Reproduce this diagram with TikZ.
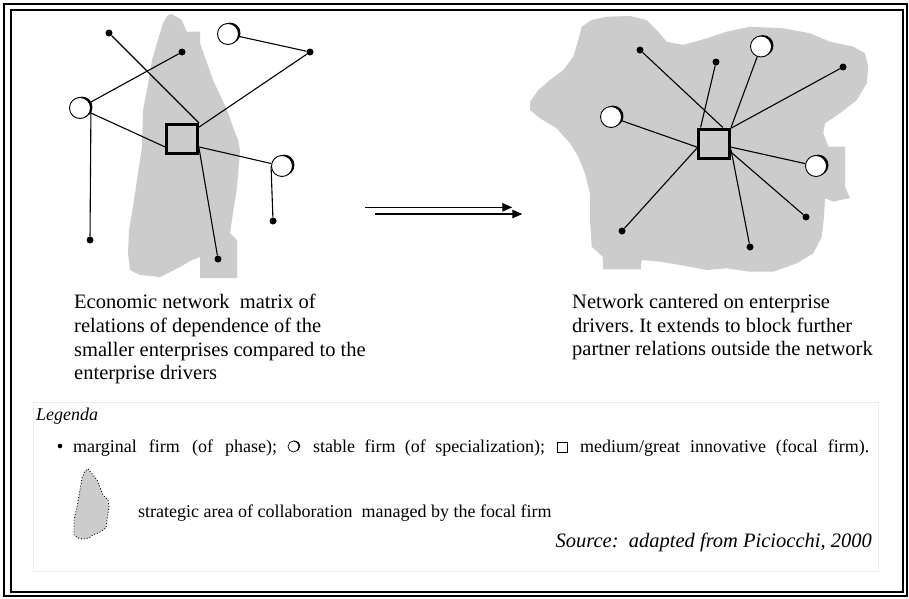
\documentclass[tikz,border=0pt]{standalone}
\usepackage{fontspec}
\setmainfont{Liberation Serif}
\usetikzlibrary{arrows.meta,shadows}
\definecolor{blobgray}{HTML}{CCCCCC}
\definecolor{boxgray}{HTML}{EBEBEB}
\frenchspacing

\begin{document}
\begin{tikzpicture}[x=1pt,y=-1pt,
  blob/.style={fill=blobgray},
  marginal/.style={circle,fill=black,inner sep=0pt,minimum size=7pt},
  stable/.style={circle,draw=black,line width=0.9pt,fill=white,inner sep=0pt,minimum size=21pt,
    drop shadow={shadow xshift=2pt,shadow yshift=0.9pt,opacity=1,fill=black}},
  focal/.style={draw=black,line width=3pt,inner sep=0pt,minimum width=31pt,minimum height=29pt},
  link/.style={line width=1.1pt},
  caption/.style={font=\fontsize{20.5}{23.7}\selectfont,align=left,anchor=north west,inner sep=0pt},
  legtext/.style={font=\fontsize{18}{21}\selectfont,anchor=base west,inner sep=0pt},
  move/.style={line width=1.2pt,-{Triangle[length=10pt,width=8.5pt]}}
]
\useasboundingbox (0,0) rectangle (909,598);
\fill[white] (0,0) rectangle (909,598);

% double frame
\draw[line width=2pt] (4,3.8) rectangle (907.3,596);
\draw[line width=2pt] (10.8,10.2) rectangle (903,591.8);

% ---------- network before: strategic area ----------
\fill[blob] (171.7,14) -- (181.7,20) -- (186.7,31.7) -- (200,31.7) -- (200,43) -- (213,80)
  -- (227,110) -- (233,127) -- (238,140) -- (240,150) -- (239,163) -- (237,187) -- (233,213)
  -- (230,233) -- (237,240) -- (237,278) -- (200,278) -- (200,257) -- (192,260) -- (180,267)
  -- (160,277) -- (140,275) -- (130,270) -- (128,253) -- (129,230) -- (133,207) -- (137,180)
  -- (142,147) -- (143,110) -- (147,90) -- (152,60) -- (157,43) -- (163,23) -- (168,15) -- cycle;

\node[focal] (L) at (182,139) {};
\node[marginal] (LA) at (109,33) {};
\node[marginal] (LB) at (182,52) {};
\node[stable]   (LC) at (228,34) {};
\node[marginal] (LD) at (310,52) {};
\node[stable]   (LE) at (80,108) {};
\node[stable]   (LF) at (282,166) {};
\node[marginal] (LG) at (273,221) {};
\node[marginal] (LH) at (90,240) {};
\node[marginal] (LI) at (218,259) {};

\draw[link] (LA) -- (L.north east);
\draw[link] (LE) -- (LB);
\draw[link] (LC) -- (LD);
\draw[link] (LD) -- (L.35);
\draw[link] (LE) -- (L.205);
\draw[link] (LE.east) -- (LH);
\draw[link] (L.-25) -- (LF);
\draw[link] (LF.west) -- (LG);
\draw[link] (L.-28) -- (LI);

% ---------- transition ----------
\coordinate (U1) at (365,207.3);
\coordinate (U2) at (512.3,207.3);
\coordinate (W1) at (375,214);
\coordinate (W2) at (522.3,214);
\draw[move] (U1) -- (U2);
\draw[move] (W1) -- (W2);

% ---------- network after: strategic area ----------
\fill[blob] (581.7,26.7) -- (591.7,20) -- (606.7,16.7) -- (630,16) -- (646.7,20) -- (658.3,31.7)
  -- (666.7,41.7) -- (683.3,45) -- (706.7,38.3) -- (726.7,31.7) -- (750,26.7) -- (783.3,28.3)
  -- (810,33.3) -- (830,41.7) -- (853.3,46.7) -- (865,53.3) -- (868.3,66.7) -- (866.7,83.3)
  -- (856.7,100) -- (840,113.3) -- (825,123.3) -- (823.3,133.3) -- (828.3,146.7) -- (845,146.7)
  -- (845,186.7) -- (850,198.3) -- (840,200) -- (833.3,201.7) -- (825,198.3) -- (824,216.7)
  -- (821.7,236.7) -- (813.3,253.3) -- (796.7,263.3) -- (773.3,271.7) -- (750,271.7)
  -- (726.7,268.3) -- (706.7,270) -- (680,265) -- (660,261.7) -- (641.7,260) -- (640.7,269.3)
  -- (603.3,269.3) -- (602.7,256.7) -- (591.7,246.7) -- (590,220) -- (590,193.3) -- (585,173.3)
  -- (578.3,156.7) -- (570,143.3) -- (556.7,128.3) -- (540,118.3) -- (530,110) -- (530,101.7)
  -- (538.3,90) -- (550,80) -- (563.3,70) -- (573.3,56.7) -- (578.3,40) -- cycle;

\node[focal] (R) at (714,143.5) {};
\node[marginal] (Ra) at (640,50) {};
\node[marginal] (Rb) at (716,62) {};
\node[stable]   (Rc) at (761,46.5) {};
\node[marginal] (Rd) at (843,67) {};
\node[stable]   (Re) at (611,117) {};
\node[stable]   (Rf) at (816,166) {};
\node[marginal] (Rg) at (806,217) {};
\node[marginal] (Rh) at (750,247) {};
\node[marginal] (Ri) at (622,231) {};

\draw[link] (Ra) -- (R.61);
\draw[link] (Rb) -- (R.130);
\draw[link] (Rc) -- (R.north east);
\draw[link] (Rd) -- (R.42);
\draw[link] (Re) -- (R.192);
\draw[link] (Rf) -- (R.-12);
\draw[link] (Rg) -- (R.-27);
\draw[link] (Rh) -- (R.-20);
\draw[link] (Ri) -- (R.195);

% ---------- captions ----------
\node[caption] (capL) at (74,294) {Economic network~ matrix of\\relations of dependence of the\\smaller enterprises compared to the\\enterprise drivers};
\node[caption] (capR) at (572,294) {Network cantered on enterprise\\drivers. It extends to block further\\partner relations outside the network};

% ---------- legend ----------
\draw[boxgray,line width=1pt] (33,402) rectangle (878,571);
\node[legtext,font=\fontsize{18}{21}\selectfont\itshape] (leg) at (36,420) {Legenda};

\node[circle,fill=black,inner sep=0pt,minimum size=4.6pt] (kbul) at (60,446) {};
\node[legtext] (k1) at (73,452) {\makebox[204pt][s]{marginal firm (of phase);}};
\node[circle,draw=black,line width=0.7pt,fill=white,inner sep=0pt,minimum size=11pt,
  drop shadow={shadow xshift=1.3pt,shadow yshift=0.5pt,opacity=1,fill=black}] (kcirc) at (293.5,446.5) {};
\node[legtext] (k2) at (313,452) {\makebox[232pt][s]{stable firm (of specialization);}};
\node[draw=black,line width=0.9pt,inner sep=0pt,minimum width=10.5pt,minimum height=10pt] (ksq) at (562.5,447) {};
\node[legtext] (k3) at (580,452) {\makebox[289pt][s]{medium/great innovative (focal firm).}};

\draw[fill=blobgray,dotted,line width=0.9pt] (88,469) -- (97,480) -- (103,495) -- (108,500) -- (109,507)
  -- (107,520) -- (106,528) -- (100,532) -- (93,535) -- (89,538) -- (83,539) -- (78,538)
  -- (74,535) -- (74,520) -- (77,507) -- (80,490) -- (82,478) -- (85,471) -- cycle;
\node[legtext] (k4) at (138,517) {strategic area of collaboration~ managed by the focal firm};

\node[font=\fontsize{20.5}{24}\selectfont\itshape,anchor=base east,inner sep=0pt] (src) at (872,547) {Source:~ adapted from Piciocchi, 2000};
\end{tikzpicture}
\end{document}
